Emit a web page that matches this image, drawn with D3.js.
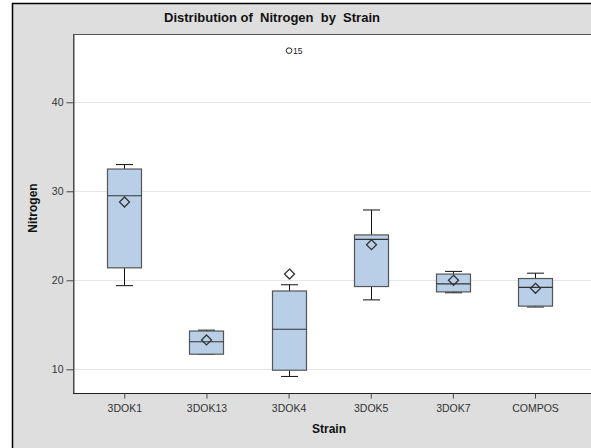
<!DOCTYPE html>
<html>
<head>
<meta charset="utf-8">
<script src="https://cdn.jsdelivr.net/npm/d3@7"></script>
<style>
  html, body { margin: 0; padding: 0; background: #ffffff; }
  svg { display: block; font-family: "Liberation Sans", Arial, sans-serif; }
</style>
</head>
<body>
<svg id="chart" width="591" height="448"></svg>
<script>
// Nitrogen box plot summary by strain
const strains     = ["3DOK1", "3DOK13", "3DOK4", "3DOK5", "3DOK7", "COMPOS"];
const whiskerLow  = [19.4, 11.7,  9.2, 17.8, 18.6, 17.0];
const q1          = [21.4, 11.7,  9.9, 19.3, 18.7, 17.1];
const median      = [29.5, 13.1, 14.5, 24.6, 19.6, 19.2];
const q3          = [32.5, 14.3, 18.8, 25.1, 20.7, 20.2];
const whiskerHigh = [33.0, 14.4, 19.5, 27.9, 21.0, 20.8];
const means       = [28.8, 13.3, 20.7, 24.0, 20.0, 19.1];
const outlierStrain = ["3DOK4"];
const outlierValue  = [45.8];
const outlierLabel  = ["15"];
const yTicks = [10, 20, 30, 40];

const svg = d3.select("#chart");
const W = 591, H = 448;
const plot = { left: 73, top: 34, right: 600, bottom: 393 };

// outer frame
svg.append("rect").attr("x", 12.5).attr("y", 3.5).attr("width", W).attr("height", H)
  .attr("fill", "#dedede").attr("stroke", "#000").attr("stroke-width", 1.5);

// plot area
svg.append("rect").attr("x", plot.left + 0.5).attr("y", plot.top + 0.5)
  .attr("width", plot.right - plot.left).attr("height", plot.bottom - plot.top)
  .attr("fill", "#ffffff").attr("stroke", "#555").attr("stroke-width", 1);

const x = d3.scalePoint().domain(strains).range([124.3, 535]);
const y = d3.scaleLinear().domain([7.34, 47.67]).range([plot.bottom, plot.top]);

// gridlines
svg.append("g").selectAll("line").data(yTicks).join("line")
  .attr("x1", plot.left + 1).attr("x2", W)
  .attr("y1", d => Math.round(y(d)) + 0.5).attr("y2", d => Math.round(y(d)) + 0.5)
  .attr("stroke", "#e6e6e6").attr("stroke-width", 1);

// axes
const yAxis = svg.append("g").attr("transform", `translate(${plot.left + 0.5},0)`)
  .call(d3.axisLeft(y).tickValues(yTicks).tickSizeInner(7).tickSizeOuter(0).tickPadding(3));
yAxis.select(".domain").attr("stroke", "#444");
yAxis.selectAll(".tick line").attr("stroke", "#444");
yAxis.selectAll(".tick text").attr("font-size", 10.5).attr("fill", "#333")
  .attr("font-family", "Liberation Sans, Arial, sans-serif");

const xAxis = svg.append("g").attr("transform", `translate(0,${plot.bottom + 0.5})`)
  .call(d3.axisBottom(x).tickSizeInner(5).tickSizeOuter(0).tickPadding(6));
xAxis.select(".domain").attr("d", `M${plot.left},0H${W + 5}`).attr("stroke", "#222");
xAxis.selectAll(".tick line").attr("stroke", "#444");
xAxis.selectAll(".tick text").attr("font-size", 10.5).attr("fill", "#333")
  .attr("font-family", "Liberation Sans, Arial, sans-serif");

// boxes
const boxHalf = 17, capHalf = 8.5;
const g = svg.append("g");
strains.forEach((s, i) => {
  const cx = Math.round(x(s)) + 0.5;
  // whiskers
  g.append("line").attr("x1", cx).attr("x2", cx).attr("y1", y(q3[i])).attr("y2", y(whiskerHigh[i]))
    .attr("stroke", "#111");
  g.append("line").attr("x1", cx).attr("x2", cx).attr("y1", y(q1[i])).attr("y2", y(whiskerLow[i]))
    .attr("stroke", "#111");
  g.append("line").attr("x1", cx - capHalf).attr("x2", cx + capHalf)
    .attr("y1", y(whiskerHigh[i])).attr("y2", y(whiskerHigh[i])).attr("stroke", "#111");
  g.append("line").attr("x1", cx - capHalf).attr("x2", cx + capHalf)
    .attr("y1", y(whiskerLow[i])).attr("y2", y(whiskerLow[i])).attr("stroke", "#111");
  // box
  g.append("rect").attr("x", cx - boxHalf).attr("y", y(q3[i]))
    .attr("width", boxHalf * 2).attr("height", y(q1[i]) - y(q3[i]))
    .attr("fill", "#b9cfe8").attr("stroke", "#555").attr("stroke-width", 1.2);
  // median
  g.append("line").attr("x1", cx - boxHalf).attr("x2", cx + boxHalf)
    .attr("y1", y(median[i])).attr("y2", y(median[i])).attr("stroke", "#333").attr("stroke-width", 1.2);
  // mean diamond
  const my = y(means[i]), r = 5;
  g.append("path").attr("d", `M${cx},${my - r}L${cx + r},${my}L${cx},${my + r}L${cx - r},${my}Z`)
    .attr("fill", "none").attr("stroke", "#333").attr("stroke-width", 1.3);
});

// outliers
outlierStrain.forEach((s, i) => {
  const cx = x(s), cy = y(outlierValue[i]);
  g.append("circle").attr("cx", cx + 0.5).attr("cy", cy).attr("r", 2.8)
    .attr("fill", "none").attr("stroke", "#222").attr("stroke-width", 1);
  g.append("text").attr("x", cx + 4.5).attr("y", cy + 3).attr("font-size", 8.5)
    .attr("fill", "#222").text(outlierLabel[i]);
});

// titles
svg.append("text").attr("x", 272).attr("y", 22).attr("text-anchor", "middle")
  .attr("font-size", 13).attr("font-weight", "bold").attr("fill", "#111")
  .attr("xml:space", "preserve").style("white-space", "pre")
  .text("Distribution of  Nitrogen  by  Strain");
svg.append("text").attr("x", 329).attr("y", 433).attr("text-anchor", "middle")
  .attr("font-size", 12).attr("font-weight", "bold").attr("fill", "#111").text("Strain");
svg.append("text").attr("transform", "translate(37,208) rotate(-90)").attr("text-anchor", "middle")
  .attr("font-size", 12).attr("font-weight", "bold").attr("fill", "#111").text("Nitrogen");
</script>
</body>
</html>
